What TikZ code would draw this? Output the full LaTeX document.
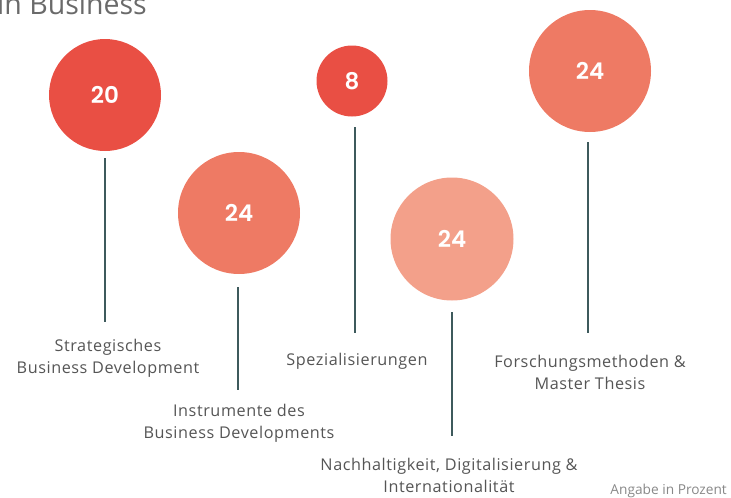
\documentclass[tikz,border=0pt]{standalone}
\usepackage{fontspec}
\setmainfont{Open Sans}[LetterSpace=3.5]
\newfontfamily\numfont{Poppins SemiBold}
\newfontfamily\titlefont{Open Sans}
\newfontfamily\notefont{Open Sans}
\definecolor{cA}{HTML}{E94F44}
\definecolor{cB}{HTML}{EE7A64}
\definecolor{cC}{HTML}{F3A08A}
\definecolor{stem}{HTML}{3E5A5C}
\definecolor{txt}{HTML}{555555}
\definecolor{ttl}{HTML}{6A6A6A}
\tikzset{
  bubble/.style={circle, inner sep=0pt, text=white, font=\numfont\fontsize{23}{23}\selectfont},
  stemline/.style={draw=stem, line width=1.6pt},
  lbl/.style={text=txt, font=\fontsize{16.2}{22}\selectfont, align=center, inner sep=0pt},
}
\begin{document}
\begin{tikzpicture}[x=1pt,y=-1pt]
\useasboundingbox (0,0) rectangle (731,498);
\clip (0,0) rectangle (731,498);
\node[anchor=base west, text=ttl, font=\titlefont\fontsize{28.5}{28.5}\selectfont, inner sep=0pt] (title) at (-3,14) {in Business};

\node[bubble, fill=cA, minimum size=112pt] (b1) at (105,95) {20};
\node[bubble, fill=cB, minimum size=122pt] (b2) at (239,213) {24};
\node[bubble, fill=cA, minimum size=71pt] (b3) at (352,81) {8};
\node[bubble, fill=cC, minimum size=123pt] (b4) at (452,239) {24};
\node[bubble, fill=cB, minimum size=122pt] (b5) at (590,71) {24};

\coordinate (s1a) at (105,158); \coordinate (s1b) at (105,322);
\coordinate (s2a) at (238,287); \coordinate (s2b) at (238,390);
\coordinate (s3a) at (355,127); \coordinate (s3b) at (355,333);
\coordinate (s4a) at (452,312); \coordinate (s4b) at (452,436);
\coordinate (s5a) at (588,142); \coordinate (s5b) at (588,333);
\draw[stemline] (s1a) -- (s1b);
\draw[stemline] (s2a) -- (s2b);
\draw[stemline] (s3a) -- (s3b);
\draw[stemline] (s4a) -- (s4b);
\draw[stemline] (s5a) -- (s5b);

\node[lbl] (l1) at (108,358) {Strategisches\\Business Development};
\node[lbl] (l2) at (239,423) {Instrumente des\\Business Developments};
\node[lbl] (l3) at (357,361) {Spezialisierungen};
\node[lbl] (l4) at (449,475) {Nachhaltigkeit, Digitalisierung \&\\Internationalität};
\node[lbl] (l5) at (590,372) {Forschungsmethoden \&\\Master Thesis};
\node[anchor=base east, text=ttl!80, font=\notefont\fontsize{13.7}{13.7}\selectfont, inner sep=0pt] (note) at (727,494) {Angabe in Prozent};
\end{tikzpicture}
\end{document}
